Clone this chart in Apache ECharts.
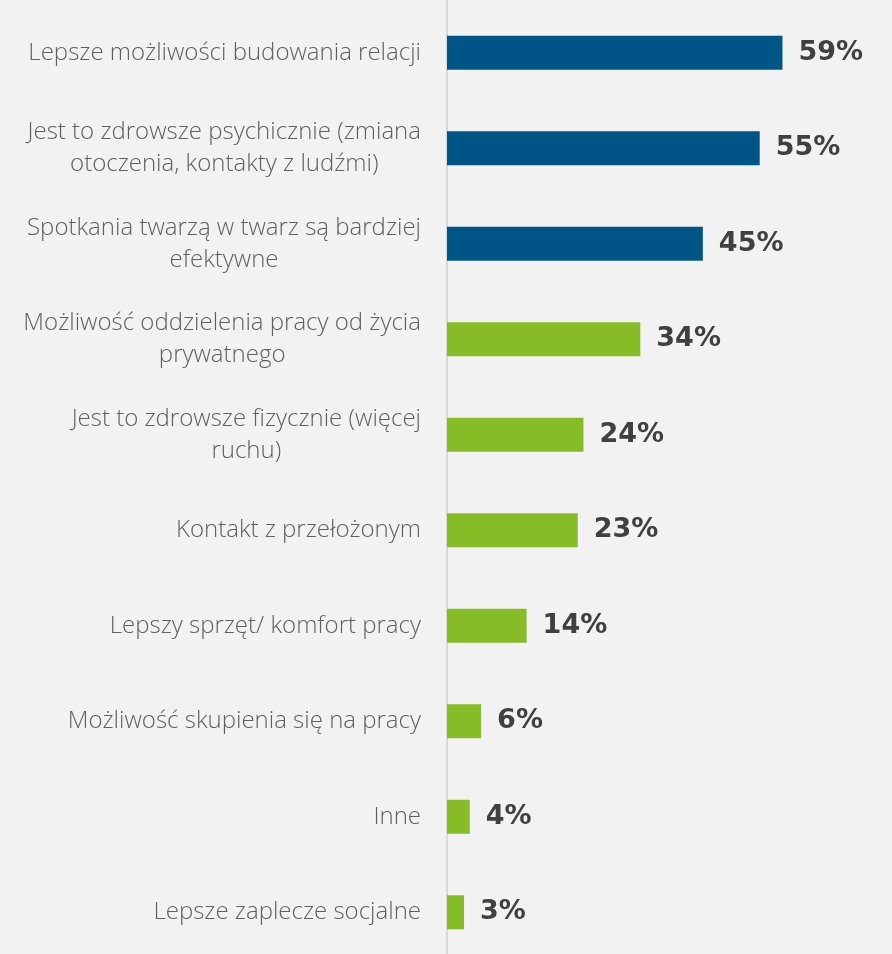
<!DOCTYPE html>
<html>
<head>
<meta charset="utf-8">
<style>
  html, body { margin: 0; padding: 0; background: #f2f2f2; overflow: hidden; }
  /* the plot runs slightly past the bottom edge of the window */
  #chart { width: 892px; height: 960px; }
</style>
<script src="https://cdn.jsdelivr.net/npm/echarts@6/dist/echarts.min.js"></script>
</head>
<body>
<div id="chart"></div>
<script>
// Reasons for preferring the office, share of answers (%)
const categories = [
  'Lepsze możliwości budowania relacji',
  'Jest to zdrowsze psychicznie (zmiana\notoczenia, kontakty z ludźmi)',
  'Spotkania twarzą w twarz są bardziej\nefektywne',
  'Możliwość oddzielenia pracy od życia\nprywatnego',
  'Jest to zdrowsze fizycznie (więcej\nruchu)',
  'Kontakt z przełożonym',
  'Lepszy sprzęt/ komfort pracy',
  'Możliwość skupienia się na pracy',
  'Inne',
  'Lepsze zaplecze socjalne'
];
const values = [59, 55, 45, 34, 24, 23, 14, 6, 4, 3];
// The three leading answers are highlighted in blue
const highlighted = [true, true, true, false, false, false, false, false, false, false];

const BLUE = '#005587';
const GREEN = '#86bc25';

const chart = echarts.init(document.getElementById('chart'), null, { renderer: 'canvas' });

chart.setOption({
  backgroundColor: '#f2f2f2',
  animation: false,
  grid: { left: 447, width: 398, top: 5, bottom: 0, containLabel: false },
  graphic: [{
    // divider continues to the top edge
    type: 'line',
    shape: { x1: 447, y1: 0, x2: 447, y2: 6 },
    style: { stroke: '#d9d9d9', lineWidth: 2 },
    silent: true
  }],
  xAxis: {
    type: 'value',
    min: 0,
    max: 70,
    axisLine: { show: false },
    axisTick: { show: false },
    axisLabel: { show: false },
    splitLine: { show: false }
  },
  yAxis: {
    type: 'category',
    inverse: true,
    data: categories,
    axisLine: { show: true, lineStyle: { color: '#d9d9d9', width: 2 } },
    axisTick: { show: false },
    axisLabel: {
      margin: 26,
      align: 'right',
      fontFamily: 'Open Sans',
      fontWeight: 300,
      fontSize: 24,
      color: '#5f5f5f',
      lineHeight: 32,
      // each line is centred inside the right-anchored label block
      formatter: function (v) {
        return v.split('\n').map(function (l) { return '{c|' + l + '}'; }).join('\n');
      },
      rich: {
        c: {
          align: 'center',
          fontFamily: 'Open Sans',
          fontWeight: 300,
          fontSize: 24,
          color: '#5f5f5f',
          lineHeight: 32
        }
      }
    }
  },
  series: [{
    type: 'bar',
    barWidth: 34,
    data: values.map(function (v, i) {
      return { value: v, itemStyle: { color: highlighted[i] ? BLUE : GREEN } };
    }),
    label: {
      show: true,
      position: 'right',
      distance: 16,
      formatter: '{c}%',
      fontFamily: 'DejaVu Sans',
      fontWeight: 'bold',
      fontSize: 27,
      color: '#404040'
    }
  }]
});
</script>
</body>
</html>
